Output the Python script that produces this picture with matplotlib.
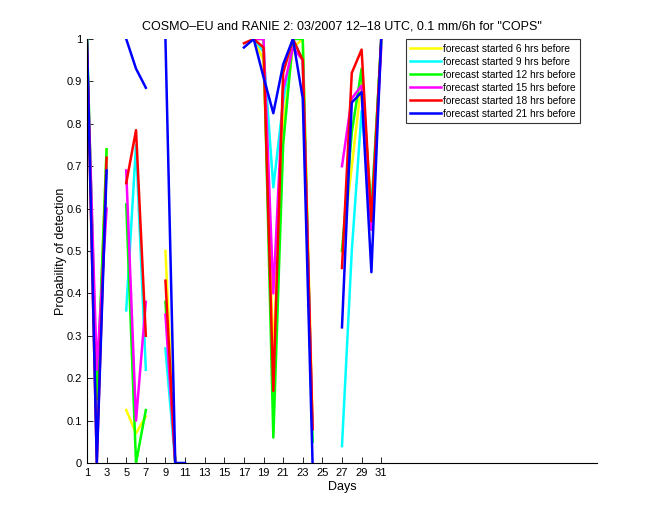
import numpy as np
import matplotlib

matplotlib.use("Agg")
import matplotlib.pyplot as plt

plt.rcParams["font.family"] = ["Liberation Sans", "DejaVu Sans"]

nan = np.nan
days = np.arange(1, 32)

# probability of detection per day, one list per forecast lead time
pod_6h = [1.0, 0.12, 0.74, nan, 0.125, 0.07, 0.11, nan, 0.5, 0.0, nan,
          nan, nan, nan, nan, nan, nan, 1.0, 0.95, 0.25, 0.8, 0.98, 1.0, 0.1,
          nan, nan, 0.5, 0.7, 0.9, 0.6, 0.99]
pod_9h = [1.0, 0.13, 0.7, nan, 0.36, 0.75, 0.22, nan, 0.27, 0.0, nan,
          nan, nan, nan, nan, nan, nan, 1.0, 0.97, 0.65, 0.85, 1.0, 0.95, 0.05,
          nan, nan, 0.04, 0.5, 0.83, 0.6, 0.99]
pod_12h = [1.0, 0.15, 0.74, nan, 0.61, 0.0, 0.125, nan, 0.38, 0.0, nan,
           nan, nan, nan, nan, nan, nan, 1.0, 1.0, 0.06, 0.75, 1.0, 1.0, 0.05,
           nan, nan, 0.5, 0.78, 0.93, 0.58, 1.0]
pod_15h = [0.97, 0.22, 0.6, nan, 0.69, 0.1, 0.38, nan, 0.35, 0.0, nan,
           nan, nan, nan, nan, nan, nan, 1.0, 1.0, 0.4, 0.88, 0.98, 0.95, 0.08,
           nan, nan, 0.70, 0.86, 0.89, 0.55, 0.98]
pod_18h = [0.99, 0.0, 0.72, nan, 0.66, 0.785, 0.3, nan, 0.43, 0.0, nan,
           nan, nan, nan, nan, nan, 0.99, 1.0, 0.98, 0.17, 0.92, 1.0, 0.95, 0.08,
           nan, nan, 0.46, 0.92, 0.975, 0.57, 1.0]
pod_21h = [1.0, 0.0, 0.69, nan, 1.0, 0.93, 0.885, nan, 1.0, 0.0, 0.0,
           nan, nan, nan, nan, nan, 0.98, 1.0, 0.91, 0.825, 0.94, 1.0, 0.86, 0.0,
           nan, nan, 0.32, 0.85, 0.875, 0.45, 1.0]

series = [pod_6h, pod_9h, pod_12h, pod_15h, pod_18h, pod_21h]
labels = ["forecast started 6 hrs before", "forecast started 9 hrs before",
          "forecast started 12 hrs before", "forecast started 15 hrs before",
          "forecast started 18 hrs before", "forecast started 21 hrs before"]
colors = ["#ffff00", "#00ffff", "#00ff00", "#ff00ff", "#ff0000", "#0000ff"]

fig = plt.figure(figsize=(6.6, 5.2), dpi=100)
ax = fig.add_axes([0.1318, 0.1096, 0.7727, 0.8154])

for vals, lab, c in zip(series, labels, colors):
    ax.plot(days, vals, color=c, lw=1.8, label=lab)

ax.set_xlim(1, 53)
ax.set_ylim(0, 1)
ax.set_xticks(np.arange(1, 32, 2))
ax.set_yticks(np.arange(0, 1.01, 0.1))
ax.set_yticklabels(["0", "0.1", "0.2", "0.3", "0.4", "0.5", "0.6", "0.7", "0.8", "0.9", "1"])
ax.tick_params(direction="in", length=4, labelsize=8, width=0.6)
for side in ["top", "right"]:
    ax.spines[side].set_visible(False)
for side in ["left", "bottom"]:
    ax.spines[side].set_linewidth(0.8)

ax.set_title('COSMO\u2013EU and RANIE 2: 03/2007 12\u201318 UTC, 0.1 mm/6h for "COPS"',
             fontsize=9, pad=7)
ax.set_xlabel("Days", fontsize=9, labelpad=2)
ax.set_ylabel("Probability of detection", fontsize=9, labelpad=0)

leg = ax.legend(loc="upper right", bbox_to_anchor=(0.967, 1.0), fontsize=7.3,
                frameon=True, fancybox=False, borderaxespad=0.0, handlelength=3.0,
                labelspacing=0.3, handletextpad=0.2, borderpad=0.45)
leg.get_frame().set_edgecolor("black")
leg.get_frame().set_linewidth(0.8)

fig.savefig("out.png", dpi=100, facecolor="white")
